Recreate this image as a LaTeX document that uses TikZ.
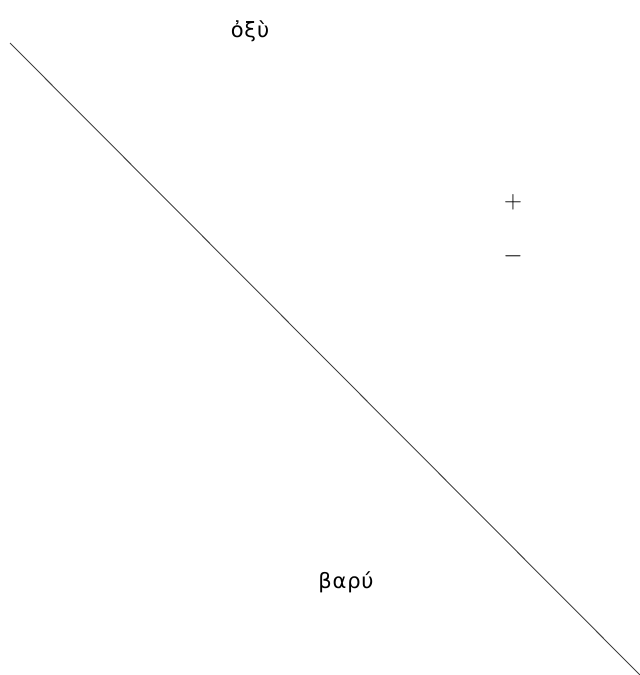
\documentclass[tikz,border=0pt]{standalone}
\usepackage{fontspec}
\setmainfont{DejaVu Sans}
\usetikzlibrary{positioning}

\begin{document}
\begin{tikzpicture}[x=1pt,y=-1pt,
		label/.style={font=\fontsize{21}{24}\selectfont\addfontfeatures{LetterSpace=4},inner sep=0pt},
		sign/.style={font=\fontsize{31}{34}\selectfont,inner sep=0pt}]
		
		\useasboundingbox (0,0) rectangle (640,675);
		
		\coordinate (top) at (10,43);
		\coordinate (bot) at (640,675);
		\draw[black!75,line width=0.9pt] (top) -- (bot);
		
		\node[label] (acute) at (250,31) {ὀξὺ};
		\node[label] (grave) at (346,582) {βαρύ};
		
		\node[sign] (plus) at (513,202) {$+$};
		\node[sign] (minus) at (513,256) {$-$};
		
	\end{tikzpicture}
\end{document}
